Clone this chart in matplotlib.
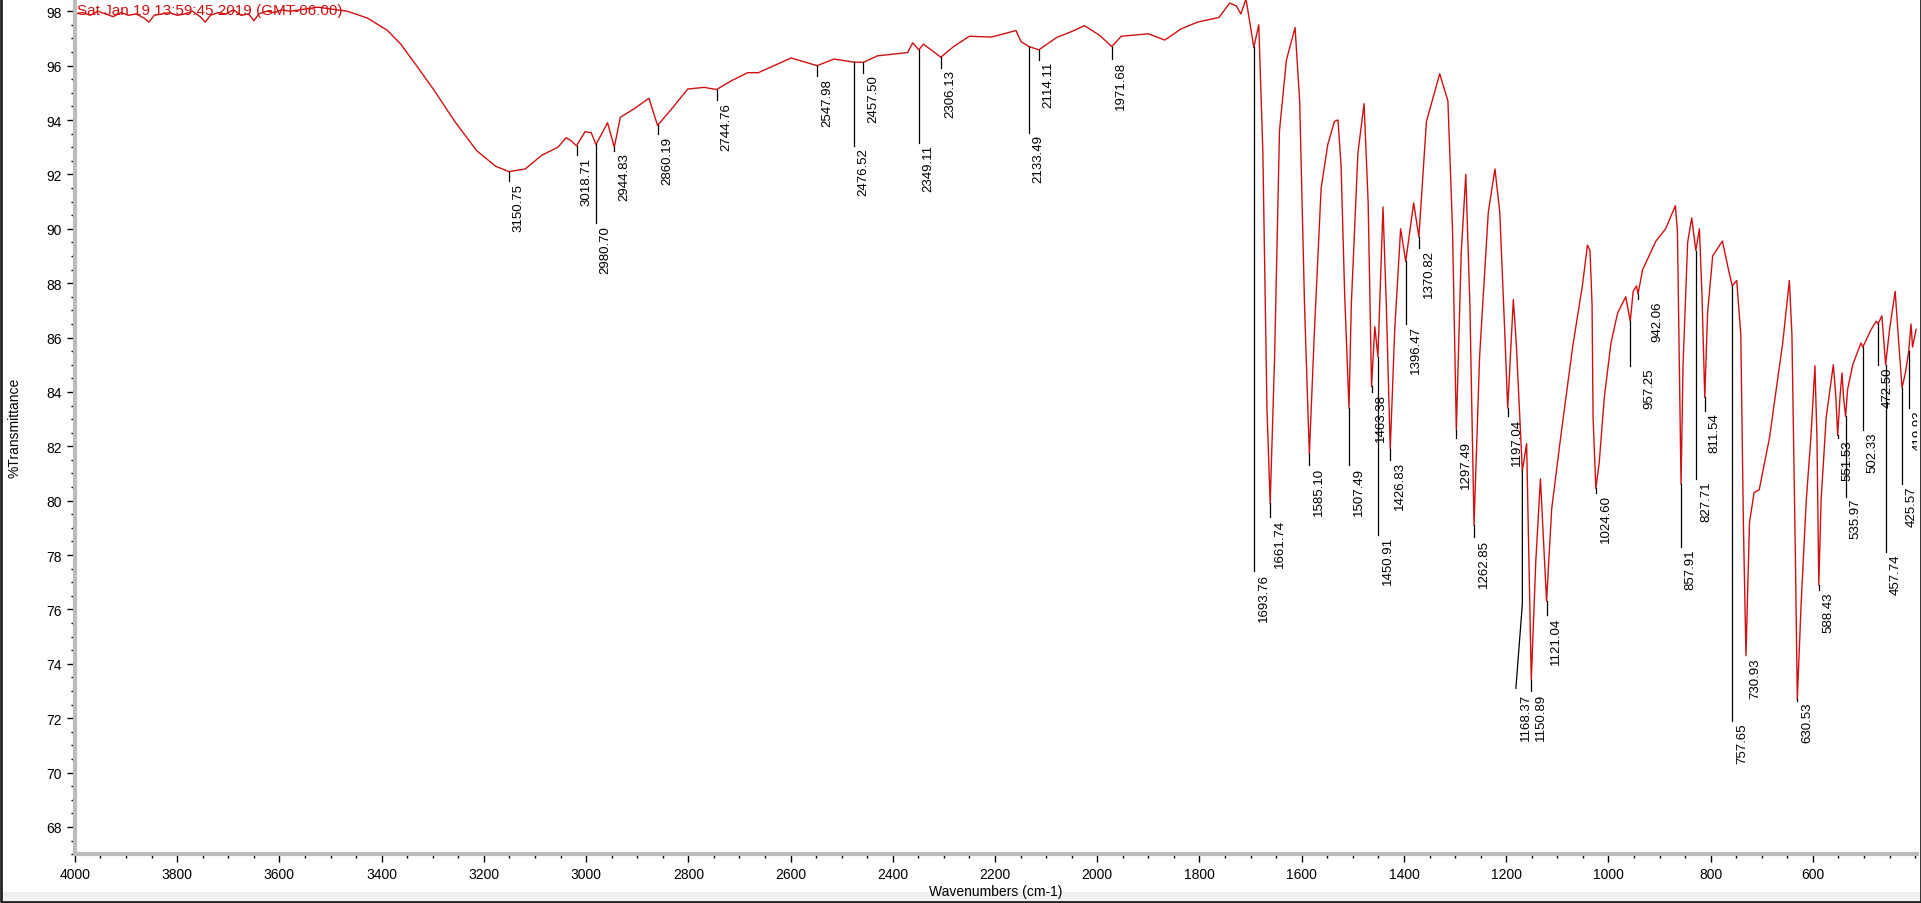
import matplotlib
matplotlib.use("Agg")
import matplotlib.pyplot as plt
from matplotlib.ticker import MultipleLocator
from matplotlib.patches import Rectangle

plt.rcParams['font.family'] = ['Liberation Sans', 'DejaVu Sans']

# spectrum: wavenumber (cm-1) and %T
wn = [4000, 3985, 3970, 3955, 3940, 3925, 3910, 3895, 3880, 3865, 3855, 3845, 3830,
      3815, 3800, 3785, 3770, 3755, 3745, 3735, 3720, 3705, 3690, 3675, 3660, 3650,
      3640, 3625, 3610, 3595, 3580, 3561, 3525, 3467, 3428, 3389, 3363,
      3331, 3299, 3257, 3214, 3177, 3150.75, 3119, 3087, 3055, 3039, 3029, 3018.7,
      3002, 2990, 2980.7, 2970, 2958, 2944.8, 2933, 2907, 2877, 2860.2, 2833, 2801,
      2769, 2744.8, 2716, 2684, 2663, 2599, 2548, 2515, 2476.5, 2457.5, 2430, 2371,
      2361, 2349.1, 2340, 2306.1, 2281, 2250, 2207, 2159, 2149, 2133.5, 2114.1, 2080,
      2048, 2025, 1995, 1971.7, 1953, 1900, 1868, 1836, 1804, 1762, 1741, 1728, 1719,
      1709, 1699, 1693.8, 1684, 1676, 1668, 1661.7, 1653, 1643.5, 1630, 1613, 1604,
      1594.5, 1585.1, 1575, 1562, 1549, 1536, 1529, 1523, 1516, 1507.5, 1503, 1490,
      1478, 1470, 1463.4, 1457, 1450.9, 1441, 1434.5, 1426.8, 1418, 1406.5, 1396.5,
      1381, 1370.8, 1356, 1330, 1314, 1305, 1297.5, 1288, 1279, 1271, 1262.9, 1252,
      1235, 1222, 1212.5, 1203, 1197, 1186, 1180, 1168.4, 1160, 1150.9, 1142, 1133,
      1121, 1111, 1095, 1070, 1051, 1041, 1036, 1032, 1030, 1024.6, 1018, 1008, 995,
      982, 966, 957.3, 951.5, 945, 942.1, 933, 907, 888, 869, 865, 861.5, 857.9, 854,
      845, 837, 829, 822, 817, 811.5, 806, 796, 777, 764, 757.7, 749, 741, 736, 730.9,
      724, 715, 705, 685, 659, 646, 641, 634, 630.5, 623, 613, 604, 596, 592, 588.4,
      584, 574, 560, 555, 551.5, 547, 543, 540, 536, 532, 522, 506, 502.3, 486, 476,
      472.5, 465, 457.7, 450, 439, 432, 425.6, 419, 412.5, 408, 405, 398]
trans = [97.9, 97.95, 97.85, 98.0, 97.9, 97.8, 97.95, 97.85, 97.9, 97.75, 97.6, 97.85,
         97.9, 97.95, 97.85, 97.9, 98.0, 97.8, 97.6, 97.85, 97.95, 97.9, 98.05, 97.85,
         97.9, 97.65, 97.9, 98.0, 97.95, 98.05, 98.0, 98.05, 98.15, 98.0, 97.75, 97.3,
         96.8, 95.98, 95.14, 93.95, 92.87, 92.3, 92.1, 92.2, 92.7, 93.0, 93.35, 93.23,
         93.05, 93.57, 93.53, 93.1, 93.47, 93.9, 93.0, 94.1, 94.4, 94.8, 93.8, 94.4,
         95.14, 95.2, 95.12, 95.44, 95.74, 95.74, 96.28, 96.0, 96.24, 96.13, 96.12,
         96.36, 96.48, 96.84, 96.58, 96.79, 96.31, 96.7, 97.08, 97.05, 97.29, 96.88,
         96.7, 96.58, 97.03, 97.27, 97.47, 97.11, 96.7, 97.08, 97.17, 96.94, 97.35,
         97.6, 97.77, 98.3, 98.2, 97.9, 98.45, 97.3, 96.67, 97.5, 92.8, 83.4, 79.9, 85.3,
         93.6, 96.2, 97.4, 94.7, 87.2, 81.7, 86.3, 91.5, 93.1, 93.95, 94.0, 92.3, 87.6,
         83.4, 87.2, 92.8, 94.6, 90.95, 84.2, 86.4, 85.3, 90.8, 87.2, 81.9, 86.3, 90.0,
         88.8, 90.95, 89.7, 93.95, 95.7, 94.7, 90.0, 82.6, 89.1, 92.0, 87.2, 79.1, 85.3,
         90.6, 92.2, 90.6, 86.3, 83.4, 87.4, 85.7, 81.1, 82.1, 73.4, 77.8, 80.8, 76.3,
         79.7, 82.1, 85.65, 87.9, 89.4, 89.2, 87.2, 83.05, 80.45, 81.4, 83.8, 85.8,
         86.9, 87.5, 86.6, 87.7, 87.9, 87.6, 88.5, 89.55, 90.0, 90.85, 89.9, 85.35,
         80.6, 85.0, 89.5, 90.4, 89.2, 90.0, 87.6, 83.8, 86.9, 89.0, 89.55, 88.4, 87.9,
         88.1, 86.1, 79.2, 74.3, 79.2, 80.3, 80.4, 82.3, 85.8, 88.1, 86.1, 77.7, 72.7,
         76.2, 80.0, 82.3, 84.96, 82.3, 76.9, 80.0, 83.05, 85.0, 83.8, 82.4, 83.8, 84.7,
         83.8, 83.1, 84.1, 85.0, 85.8, 85.65, 86.3, 86.6, 86.5, 86.8, 85.0, 86.3, 87.7,
         85.8, 84.15, 84.7, 85.5, 86.5, 85.65, 86.3]

# peak labels: position, %T at the peak, %T where the leader line ends
peak_wn = [3150.75, 3018.71, 2980.70, 2944.83, 2860.19, 2744.76, 2547.98, 2476.52,
           2457.50, 2349.11, 2306.13, 2133.49, 2114.11, 1971.68, 1693.76, 1661.74,
           1585.10, 1507.49, 1463.38, 1450.91, 1426.83, 1396.47, 1370.82, 1297.49,
           1262.85, 1197.04, 1168.37, 1150.89, 1121.04, 1024.60, 957.25, 942.06,
           857.91, 827.71, 811.54, 757.65, 730.93, 630.53, 588.43, 551.53, 535.97,
           502.33, 472.50, 457.74, 425.57, 412.50]
peak_txt = ["3150.75", "3018.71", "2980.70", "2944.83", "2860.19", "2744.76", "2547.98",
            "2476.52", "2457.50", "2349.11", "2306.13", "2133.49", "2114.11", "1971.68",
            "1693.76", "1661.74", "1585.10", "1507.49", "1463.38", "1450.91", "1426.83",
            "1396.47", "1370.82", "1297.49", "1262.85", "1197.04", "1168.37", "1150.89",
            "1121.04", "1024.60", "957.25", "942.06", "857.91", "827.71", "811.54",
            "757.65", "730.93", "630.53", "588.43", "551.53", "535.97", "502.33",
            "472.50", "457.74", "425.57", "419.93"]
peak_top = [92.1, 93.05, 93.1, 93.0, 93.8, 95.12, 96.0, 96.13, 96.12, 96.58, 96.31,
            96.7, 96.58, 96.7, 96.67, 79.9, 81.7, 83.4, 84.2, 85.3, 81.9, 88.8, 89.7,
            82.6, 79.1, 83.4, 81.1, 73.4, 76.3, 80.45, 86.6, 87.6, 80.6, 89.2, 83.8,
            87.9, 74.3, 72.7, 76.9, 82.4, 83.1, 85.65, 86.5, 85.0, 84.15, 85.5]
peak_end = [91.74, 92.7, 90.2, 92.87, 93.47, 94.72, 95.6, 93.05, 95.74, 93.17, 95.92,
            93.53, 96.22, 96.24, 77.4, 79.4, 81.3, 81.3, 84.0, 78.75, 81.5, 86.5, 89.3,
            82.3, 78.65, 83.1, 76.2, 73.0, 75.8, 80.3, 84.96, 87.4, 78.3, 80.8, 83.3,
            71.9, 74.3, 72.65, 76.7, 82.3, 80.15, 82.6, 85.0, 78.1, 80.6, 83.4]

fig = plt.figure(figsize=(19.21, 9.04), dpi=100)
ax = fig.add_axes([0.039, 0.054, 0.959, 0.946])

ax.plot(wn, trans, color='#d01010', lw=1.0)

for x, t, top, end in zip(peak_wn, peak_txt, peak_top, peak_end):
    if x == 1168.37:
        # this one has a bent leader
        ax.plot([x, x, 1181], [top, end, 73.1], color='black', lw=0.9)
        ax.annotate(t, xy=(1181, 73.0), xytext=(7, -1), textcoords='offset points',
                    rotation=90, ha='center', va='top', fontsize=9.5)
        continue
    ax.plot([x, x], [top, end], color='black', lw=0.9)
    dx = 14 if x in (942.06, 957.25) else 7
    ax.annotate(t, xy=(x, end), xytext=(dx, -1), textcoords='offset points',
                rotation=90, ha='center', va='top', fontsize=9.5, annotation_clip=False,
                clip_on=True)

ax.text(3995, 98.05, "Sat Jan 19 13:59:45 2019 (GMT-06:00)", color='#d01010',
        fontsize=11, va='center', ha='left')

ax.set_xlim(4000, 396)
ax.set_ylim(67.0, 98.45)
ax.xaxis.set_major_locator(MultipleLocator(200))
ax.xaxis.set_minor_locator(MultipleLocator(50))
ax.yaxis.set_major_locator(MultipleLocator(2))
ax.yaxis.set_minor_locator(MultipleLocator(0.5))
ax.tick_params(axis='both', which='major', length=6, width=1, labelsize=10)
ax.tick_params(axis='both', which='minor', length=3, width=1)
ax.set_xticks([x for x in range(4000, 500, -200)])

for side in ('top', 'right'):
    ax.spines[side].set_visible(False)
for side in ('left', 'bottom'):
    ax.spines[side].set_color('#bcbcbc')
    ax.spines[side].set_linewidth(3)

ax.set_xlabel("Wavenumbers (cm-1)", fontsize=10, labelpad=2)
ax.set_ylabel("%Transmittance", fontsize=10, labelpad=18)

# window-like frame around the picture
fig.patches.append(Rectangle((0, 0), 1, 0.012, transform=fig.transFigure,
                             facecolor='#f0f0f0', edgecolor='none', zorder=-1))
fig.patches.append(Rectangle((0.0005, 0.001), 0.9995, 1.2, transform=fig.transFigure,
                             facecolor='none', edgecolor='#222222', lw=2))

fig.savefig("out.png", dpi=100)
